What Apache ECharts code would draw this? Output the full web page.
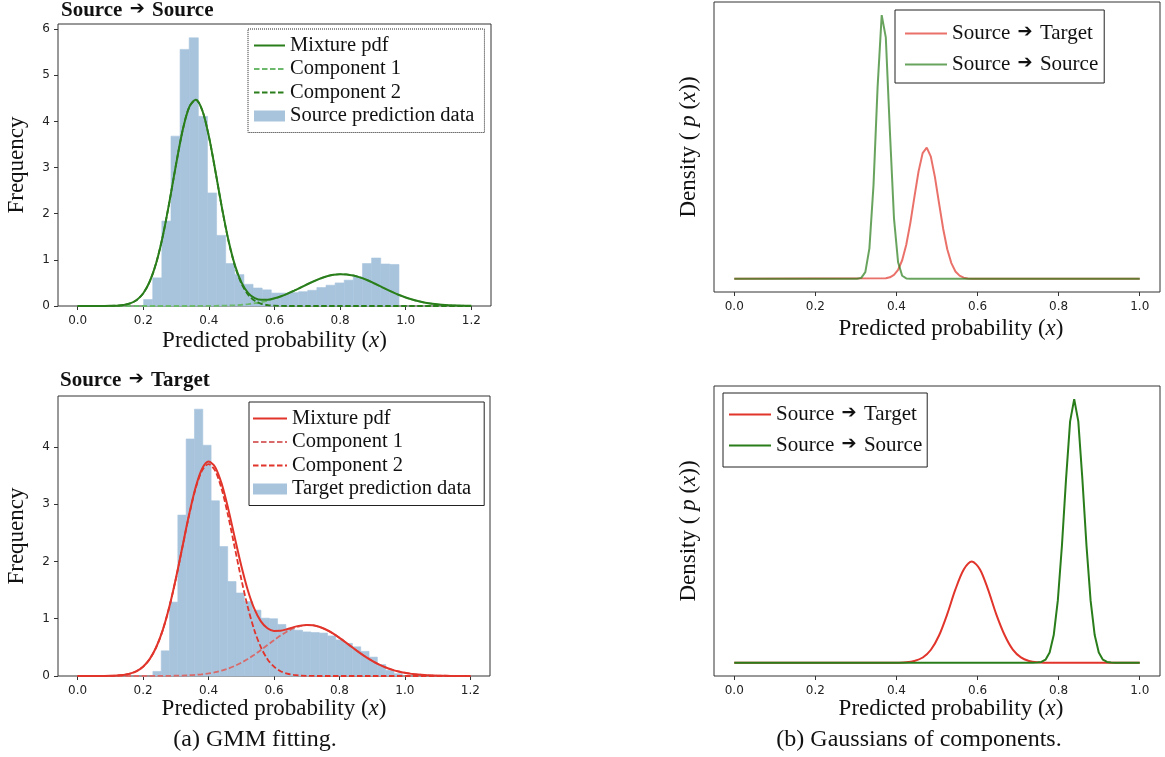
<!DOCTYPE html>
<html>
<head>
<meta charset="utf-8">
<title>GMM fitting</title>
<script src="https://cdn.jsdelivr.net/npm/echarts@6.0.0/dist/echarts.min.js"></script>
<style>
  html, body { margin: 0; padding: 0; background: #fff; }
  #chart { width: 1165px; height: 757px; }
</style>
</head>
<body>
<div id="chart"></div>
<script>
const SERIF = '"Liberation Serif", "Times New Roman", serif';
const SANS = '"DejaVu Sans", sans-serif';

// ---- (a) GMM fitting : sample positions of the fitted curves
const gmmX = [0, 0.02, 0.04, 0.06, 0.08, 0.1, 0.12, 0.14, 0.16, 0.18, 0.2, 0.22, 0.24, 0.26, 0.28, 0.3,
  0.32, 0.34, 0.36, 0.38, 0.4, 0.42, 0.44, 0.46, 0.48, 0.5, 0.52, 0.54, 0.56, 0.58, 0.6, 0.62, 0.64,
  0.66, 0.68, 0.7, 0.72, 0.74, 0.76, 0.78, 0.8, 0.82, 0.84, 0.86, 0.88, 0.9, 0.92, 0.94, 0.96, 0.98,
  1, 1.02, 1.04, 1.06, 1.08, 1.1, 1.12, 1.14, 1.16, 1.18, 1.2];

// Source -> Source
const ssHistStart = 0.201;
const ssHistWidth = 0.0278;
const ssHist = [0.14, 0.61, 1.84, 3.68, 5.56, 5.81, 4.11, 2.45, 1.53, 0.92, 0.68, 0.47, 0.39, 0.35,
  0.28, 0.28, 0.29, 0.31, 0.34, 0.40, 0.45, 0.50, 0.56, 0.63, 0.92, 1.04, 0.91, 0.90];
const ssMixture = [0, 0, 0, 0, 0.001, 0.003, 0.008, 0.022, 0.057, 0.131, 0.277, 0.536, 0.948, 1.533,
  2.270, 3.073, 3.806, 4.311, 4.470, 4.236, 3.675, 2.917, 2.121, 1.414, 0.870, 0.500, 0.281, 0.172,
  0.133, 0.137, 0.167, 0.212, 0.268, 0.333, 0.401, 0.471, 0.537, 0.596, 0.643, 0.675, 0.689, 0.685,
  0.661, 0.621, 0.568, 0.504, 0.436, 0.366, 0.300, 0.238, 0.184, 0.139, 0.101, 0.072, 0.050, 0.034,
  0.022, 0.014, 0.009, 0.005, 0.003];
const ssComp1 = [0, 0, 0, 0, 0, 0, 0, 0, 0, 0, 0, 0, 0, 0, 0, 0, 0, 0, 0.001, 0.001, 0.002, 0.004,
  0.007, 0.011, 0.018, 0.027, 0.041, 0.060, 0.086, 0.119, 0.160, 0.210, 0.268, 0.333, 0.401, 0.471,
  0.537, 0.596, 0.643, 0.675, 0.689, 0.685, 0.661, 0.621, 0.568, 0.504, 0.436, 0.366, 0.300, 0.238,
  0.184, 0.139, 0.101, 0.072, 0.050, 0.034, 0.022, 0.014, 0.009, 0.005, 0.003];
const ssComp2 = [0, 0, 0, 0, 0.001, 0.003, 0.008, 0.022, 0.057, 0.131, 0.277, 0.536, 0.948, 1.533,
  2.270, 3.073, 3.806, 4.311, 4.469, 4.235, 3.673, 2.913, 2.114, 1.403, 0.852, 0.473, 0.240, 0.112,
  0.047, 0.018, 0.007, 0.002, 0, 0, 0, 0, 0, 0, 0, 0, 0, 0, 0, 0, 0, 0, 0, 0, 0, 0, 0, 0, 0, 0, 0,
  0, 0, 0, 0, 0, 0];

// Source -> Target
const stHistStart = 0.230;
const stHistWidth = 0.0254;
const stHist = [0.08, 0.44, 1.29, 2.81, 4.14, 4.66, 4.03, 3.06, 2.26, 1.65, 1.45, 1.30, 1.15, 1.01,
  1.00, 0.90, 0.83, 0.80, 0.77, 0.76, 0.75, 0.70, 0.63, 0.57, 0.51, 0.43, 0.33, 0.20, 0.10, 0.04];
const stMixture = [0, 0, 0, 0, 0.001, 0.003, 0.008, 0.019, 0.041, 0.084, 0.163, 0.295, 0.502, 0.802,
  1.204, 1.699, 2.252, 2.806, 3.285, 3.616, 3.745, 3.652, 3.359, 2.923, 2.420, 1.926, 1.499, 1.172,
  0.955, 0.834, 0.788, 0.790, 0.818, 0.853, 0.880, 0.892, 0.885, 0.856, 0.808, 0.743, 0.667, 0.583,
  0.497, 0.413, 0.334, 0.264, 0.203, 0.152, 0.111, 0.079, 0.055, 0.037, 0.025, 0.016, 0.010, 0.006,
  0.004, 0.002, 0.001, 0.001, 0];
const stComp1 = [0, 0, 0, 0, 0, 0, 0, 0, 0, 0, 0, 0.001, 0.001, 0.002, 0.003, 0.005, 0.008, 0.013,
  0.020, 0.030, 0.045, 0.066, 0.094, 0.130, 0.176, 0.232, 0.298, 0.372, 0.454, 0.540, 0.625, 0.706,
  0.777, 0.834, 0.872, 0.889, 0.884, 0.856, 0.808, 0.743, 0.667, 0.583, 0.497, 0.413, 0.334, 0.264,
  0.203, 0.152, 0.111, 0.079, 0.055, 0.037, 0.025, 0.016, 0.010, 0.006, 0.004, 0.002, 0.001, 0.001, 0];
const stComp2 = [0, 0, 0, 0, 0.001, 0.003, 0.008, 0.019, 0.041, 0.084, 0.163, 0.294, 0.501, 0.800,
  1.201, 1.694, 2.244, 2.793, 3.265, 3.586, 3.700, 3.586, 3.265, 2.793, 2.244, 1.694, 1.201, 0.800,
  0.501, 0.294, 0.163, 0.084, 0.041, 0.019, 0.008, 0.003, 0.001, 0, 0, 0, 0, 0, 0, 0, 0, 0, 0, 0, 0,
  0, 0, 0, 0, 0, 0, 0, 0, 0, 0, 0, 0];

// ---- (b) Gaussians of components (density, arbitrary units)
const topTargetX = [0, 0.3737, 0.3838, 0.3939, 0.4040, 0.4141, 0.4242, 0.4343, 0.4444, 0.4545, 0.4646,
  0.4747, 0.4848, 0.4949, 0.5051, 0.5152, 0.5253, 0.5354, 0.5455, 0.5556, 0.5657, 0.5758, 0.5859, 1];
const topTargetY = [0, 0.05, 0.14, 0.37, 0.85, 1.76, 3.23, 5.31, 7.79, 10.19, 11.92, 12.44, 11.59,
  9.64, 7.16, 4.75, 2.81, 1.49, 0.70, 0.30, 0.11, 0.04, 0.01, 0];
const topSourceX = [0, 0.2929, 0.3030, 0.3131, 0.3232, 0.3333, 0.3434, 0.3535, 0.3636, 0.3737, 0.3838,
  0.3939, 0.4040, 0.4141, 0.4242, 0.4343, 1];
const topSourceY = [0, 0, 0.01, 0.09, 0.63, 2.89, 8.88, 18.2, 25.0, 22.9, 14.0, 5.74, 1.57, 0.29,
  0.04, 0, 0];
const botTargetX = [0, 0.384, 0.404, 0.424, 0.444, 0.465, 0.485, 0.505, 0.525, 0.545, 0.566, 0.586,
  0.606, 0.626, 0.646, 0.667, 0.687, 0.707, 0.727, 0.747, 0.768, 0.788, 1];
const botTargetY = [0, 0, 0.013, 0.051, 0.174, 0.505, 1.24, 2.59, 4.59, 6.91, 8.84, 9.60, 8.86, 6.94,
  4.62, 2.61, 1.25, 0.51, 0.18, 0.05, 0.013, 0, 0];
const botSourceX = [0, 0.7374, 0.7475, 0.7576, 0.7677, 0.7778, 0.7879, 0.7980, 0.8081, 0.8182, 0.8283,
  0.8384, 0.8485, 0.8586, 0.8687, 0.8788, 0.8889, 0.8990, 0.9091, 0.9192, 0.9293, 0.9394, 1];
const botSourceY = [0, 0, 0.02, 0.08, 0.30, 0.98, 2.63, 5.92, 11.1, 17.4, 22.9, 25.0, 22.9, 17.4, 11.1,
  5.92, 2.63, 0.98, 0.30, 0.08, 0.02, 0, 0];

const xTicksA = [0, 0.2, 0.4, 0.6, 0.8, 1.0, 1.2];
const xTicksB = [0, 0.2, 0.4, 0.6, 0.8, 1.0];
const yTicksSS = [0, 1, 2, 3, 4, 5, 6];
const yTicksST = [0, 1, 2, 3, 4];

const GREEN = '#2a7d1b';
const GREEN_LIGHT = '#6cb86c';
const RED = '#e1342b';
const RED_LIGHT = '#d86a6a';
const HIST = '#a8c4dd';
const DASH = [5.5, 2.5];

// heavy arrow used in titles and legends
const arrowRich = { a: { fontFamily: SANS, fontSize: 18, fontWeight: 'bold', color: '#111', padding: [0, 2, 2, 2] } };
const withArrow = s => s.replace(' #2', '').replace('→', '{a|➔}');

function xAxisFor(gridIndex, min, max, ticks, nameGap, namePad) {
  return {
    type: 'value', gridIndex: gridIndex, min: min, max: max,
    axisLine: { show: false, onZero: false },
    splitLine: { show: false },
    axisTick: { show: true, length: 4, customValues: ticks, lineStyle: { color: '#333' } },
    axisLabel: { customValues: ticks, formatter: v => v.toFixed(1), fontFamily: SANS, fontSize: 12, color: '#222', margin: 9 },
    name: 'Predicted probability ({i|x})',
    nameLocation: 'middle', nameGap: nameGap,
    nameTextStyle: {
      fontFamily: SERIF, fontSize: 23, color: '#111', padding: namePad,
      rich: { i: { fontFamily: SERIF, fontStyle: 'italic', fontSize: 23, color: '#111' } }
    }
  };
}

function freqAxis(gridIndex, max, ticks) {
  return {
    type: 'value', gridIndex: gridIndex, min: 0, max: max,
    axisLine: { show: false, onZero: false },
    splitLine: { show: false },
    axisTick: { show: true, length: 4, customValues: ticks, lineStyle: { color: '#333' } },
    axisLabel: { customValues: ticks, fontFamily: SANS, fontSize: 12, color: '#222', margin: 8 },
    name: 'Frequency', nameLocation: 'middle', nameGap: 30, nameMoveOverlap: false,
    nameTextStyle: { fontFamily: SERIF, fontSize: 23, color: '#111' }
  };
}

function densityAxis(gridIndex) {
  return {
    type: 'value', gridIndex: gridIndex, min: -1.25, max: 26.25,
    axisLine: { show: false, onZero: false }, splitLine: { show: false },
    axisTick: { show: false }, axisLabel: { show: false },
    name: 'Density ( {i|p} ({i|x}))', nameLocation: 'middle', nameGap: 14, nameMoveOverlap: false,
    nameTextStyle: {
      fontFamily: SERIF, fontSize: 23, color: '#111',
      rich: { i: { fontFamily: SERIF, fontStyle: 'italic', fontSize: 23, color: '#111' } }
    }
  };
}

function histogram(name, axisIndex, start, width, heights) {
  return {
    type: 'custom', name: name, xAxisIndex: axisIndex, yAxisIndex: axisIndex,
    itemStyle: { color: HIST },
    encode: { x: [0, 1], y: 2 },
    data: heights.map((h, i) => [start + i * width, start + (i + 1) * width, h]),
    renderItem: function (params, api) {
      const p0 = api.coord([api.value(0), api.value(2)]);
      const p1 = api.coord([api.value(1), 0]);
      return {
        type: 'rect',
        shape: { x: p0[0], y: p0[1], width: p1[0] - p0[0], height: p1[1] - p0[1] },
        style: { fill: HIST, stroke: HIST, lineWidth: 0.6 }
      };
    },
    z: 1
  };
}

function curve(name, axisIndex, xs, ys, color, extra) {
  const s = {
    type: 'line', name: name, xAxisIndex: axisIndex, yAxisIndex: axisIndex,
    data: xs.map((x, i) => [x, ys[i]]),
    symbol: 'none', showSymbol: false, smooth: 0.3,
    lineStyle: { color: color, width: 2 },
    itemStyle: { color: color },
    z: 3
  };
  return Object.assign(s, extra || {});
}

// legend entry for a line: hide the marker ECharts puts on the line icon
const lineItem = name => ({ name: name, itemStyle: { opacity: 0 } });

const chart = echarts.init(document.getElementById('chart'), null, { renderer: 'canvas' });

chart.setOption({
  backgroundColor: '#fff',
  animation: false,
  title: [
    { text: withArrow('Source → Source'), left: 61, top: 0, padding: 0,
      textStyle: { fontFamily: SERIF, fontWeight: 'bold', fontSize: 21, color: '#111', rich: arrowRich } },
    { text: withArrow('Source → Target'), left: 60, top: 370, padding: 0,
      textStyle: { fontFamily: SERIF, fontWeight: 'bold', fontSize: 21, color: '#111', rich: arrowRich } },
    { text: '(a) GMM fitting.', left: 255, top: 728, padding: 0, textAlign: 'center',
      textStyle: { fontFamily: SERIF, fontWeight: 'normal', fontSize: 24, color: '#111' } },
    { text: '(b) Gaussians of components.', left: 919, top: 728, padding: 0, textAlign: 'center',
      textStyle: { fontFamily: SERIF, fontWeight: 'normal', fontSize: 24, color: '#111' } }
  ],
  grid: [
    { left: 58, top: 24, width: 433, height: 282, show: true, borderColor: '#333', borderWidth: 1 },
    { left: 58, top: 396, width: 432, height: 280, show: true, borderColor: '#333', borderWidth: 1 },
    { left: 714, top: 2, width: 446, height: 290, show: true, borderColor: '#333', borderWidth: 1 },
    { left: 714, top: 386, width: 446, height: 290, show: true, borderColor: '#333', borderWidth: 1 }
  ],
  xAxis: [
    xAxisFor(0, -0.06, 1.26, xTicksA, 23, 0),
    xAxisFor(1, -0.06, 1.26, xTicksA, 21, 0),
    xAxisFor(2, -0.05, 1.05, xTicksB, 25, [0, 0, 0, 28]),
    xAxisFor(3, -0.05, 1.05, xTicksB, 21, [0, 0, 0, 28])
  ],
  yAxis: [
    freqAxis(0, 6.11, yTicksSS),
    freqAxis(1, 4.89, yTicksST),
    densityAxis(2),
    densityAxis(3)
  ],
  legend: [
    { orient: 'vertical', left: 248, top: 29, padding: [6, 10, 6, 5],
      itemWidth: 31, itemHeight: 11, itemGap: 2.5,
      borderColor: '#222', borderWidth: 1, borderType: 'dotted',
      selectedMode: false, textStyle: { fontFamily: SERIF, fontSize: 20.5, color: '#111' },
      data: [lineItem('Mixture pdf'), lineItem('Component 1'), lineItem('Component 2'),
        { name: 'Source prediction data', icon: 'rect' }] },
    { orient: 'vertical', left: 249, top: 402, padding: [6, 13, 6, 3],
      itemWidth: 34, itemHeight: 11, itemGap: 2.5,
      borderColor: '#222', borderWidth: 1,
      selectedMode: false, textStyle: { fontFamily: SERIF, fontSize: 20.5, color: '#111' },
      formatter: name => name.replace(' #2', ''),
      data: [lineItem('Mixture pdf #2'), lineItem('Component 1 #2'), lineItem('Component 2 #2'),
        { name: 'Target prediction data', icon: 'rect' }] },
    { orient: 'vertical', left: 895, top: 10, padding: [13, 6, 8, 9],
      itemWidth: 42, itemHeight: 12, itemGap: 10,
      borderColor: '#222', borderWidth: 1,
      selectedMode: false, textStyle: { fontFamily: SERIF, fontSize: 21, color: '#111', rich: arrowRich },
      formatter: withArrow,
      data: [lineItem('Source → Target'), lineItem('Source → Source')] },
    { orient: 'vertical', left: 723, top: 393, padding: [11, 5, 11, 5],
      itemWidth: 42, itemHeight: 12, itemGap: 10,
      borderColor: '#222', borderWidth: 1,
      selectedMode: false, textStyle: { fontFamily: SERIF, fontSize: 21, color: '#111', rich: arrowRich },
      formatter: withArrow,
      data: [lineItem('Source → Target #2'), lineItem('Source → Source #2')] }
  ],
  series: [
    histogram('Source prediction data', 0, ssHistStart, ssHistWidth, ssHist),
    curve('Component 1', 0, gmmX, ssComp1, GREEN_LIGHT, { lineStyle: { color: GREEN_LIGHT, width: 1.8, type: DASH } }),
    curve('Component 2', 0, gmmX, ssComp2, GREEN, { lineStyle: { color: GREEN, width: 1.8, type: DASH } }),
    curve('Mixture pdf', 0, gmmX, ssMixture, GREEN, { z: 4 }),

    histogram('Target prediction data', 1, stHistStart, stHistWidth, stHist),
    curve('Component 1 #2', 1, gmmX, stComp1, RED_LIGHT, { lineStyle: { color: RED_LIGHT, width: 1.8, type: DASH } }),
    curve('Component 2 #2', 1, gmmX, stComp2, RED, { lineStyle: { color: RED, width: 1.8, type: DASH } }),
    curve('Mixture pdf #2', 1, gmmX, stMixture, RED, { z: 4 }),

    curve('Source → Target', 2, topTargetX, topTargetY, RED, { smooth: false, lineStyle: { color: RED, width: 2, opacity: 0.7 } }),
    curve('Source → Source', 2, topSourceX, topSourceY, GREEN, { smooth: false, lineStyle: { color: GREEN, width: 2, opacity: 0.7 } }),

    curve('Source → Target #2', 3, botTargetX, botTargetY, RED),
    curve('Source → Source #2', 3, botSourceX, botSourceY, GREEN, { smooth: false })
  ]
});
</script>
</body>
</html>
